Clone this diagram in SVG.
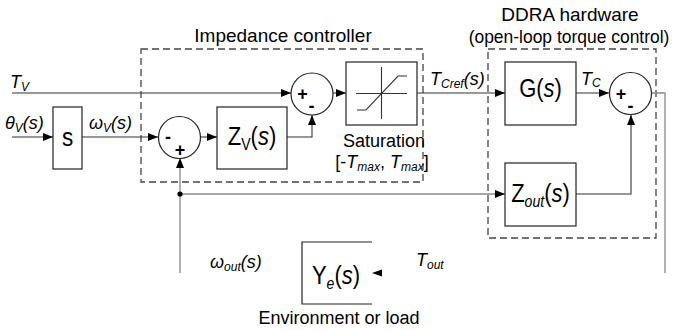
<svg xmlns="http://www.w3.org/2000/svg" width="674" height="330" viewBox="0 0 674 330">
<defs>
<marker id="ah" viewBox="0 0 10 8" refX="10" refY="4" markerWidth="10" markerHeight="8" markerUnits="userSpaceOnUse" orient="auto">
<path d="M0,0 L10,4 L0,8 Z" fill="#000"/>
</marker>
<style>
.box{fill:#fff;stroke:#222;stroke-width:1.2}
.dash{fill:none;stroke:#444;stroke-width:1.3;stroke-dasharray:7,4}
.sum{fill:#fff;stroke:#222;stroke-width:1.2}
.ln{fill:none;stroke:#333;stroke-width:1.1}
.lg{fill:none;stroke:#888;stroke-width:1.3}
.t{font-family:"Liberation Sans",Arial,sans-serif;fill:#000}
.title{font-size:19px}
.blk{font-size:25px}
.lab{font-size:18px;font-style:italic}
.sign{font-size:18px;font-weight:bold}
.i{font-style:italic}
</style>
</defs>

<g id="impedance-controller">
<rect class="dash" x="141" y="49" width="282" height="133"/>
<text class="t title" x="283" y="42" text-anchor="middle">Impedance controller</text>
</g>
<g id="ddra-hardware">
<rect class="dash" x="488" y="49" width="168" height="189"/>
<text class="t title" x="570" y="21" text-anchor="middle">DDRA hardware</text>
<text class="t" font-size="18" transform="translate(569,43) scale(0.97,1)" text-anchor="middle">(open-loop torque control)</text>
</g>

<g id="connectors">
<path class="ln" d="M12,93 H291" marker-end="url(#ah)"/>
<path class="ln" d="M12,137 H53" marker-end="url(#ah)"/>
<path class="ln" d="M82,137 H158" marker-end="url(#ah)"/>
<path class="ln" d="M201,137 H217" marker-end="url(#ah)"/>
<path class="ln" d="M287,137 H312 V115" marker-end="url(#ah)"/>
<path class="ln" d="M333,93 H346" marker-end="url(#ah)"/>
<path class="ln" d="M417,93 H505" marker-end="url(#ah)"/>
<path class="ln" d="M576,93 H609" marker-end="url(#ah)"/>
<path class="lg" d="M652,93 H665 V273"/>
<path class="ln" d="M576,194 H631 V115" marker-end="url(#ah)"/>
<path class="lg" d="M180,194 H505" marker-end="url(#ah)"/>
<path class="lg" d="M180,273 V158" marker-end="url(#ah)"/>
<circle cx="180" cy="194" r="2.6" fill="#000"/>
<path d="M372,273 L382,269.5 L382,276.5 Z" fill="#000"/>
</g>

<g id="sum1">
<circle class="sum" cx="312" cy="94" r="21"/>
<text class="t sign" x="302.5" y="100" text-anchor="middle">+</text>
<text class="t sign" x="311.5" y="112" text-anchor="middle">-</text>
</g>
<g id="sum2">
<circle class="sum" cx="179.5" cy="137.5" r="21"/>
<text class="t sign" x="168" y="143" text-anchor="middle">-</text>
<text class="t sign" x="180" y="156" text-anchor="middle">+</text>
</g>
<g id="sum3">
<circle class="sum" cx="630.5" cy="93.5" r="21"/>
<text class="t sign" x="621" y="99.5" text-anchor="middle">+</text>
<text class="t sign" x="630.5" y="112" text-anchor="middle">-</text>
</g>

<g id="s-block">
<rect class="box" x="53" y="107" width="29" height="62"/>
<text class="t blk" transform="translate(67.5,146) scale(0.9,1)" text-anchor="middle">s</text>
</g>
<g id="zv-block">
<rect class="box" x="217" y="107" width="70" height="62"/>
<text class="t blk" transform="translate(252,145) scale(0.88,1)" text-anchor="middle">Z<tspan font-size="16" dy="5">V</tspan><tspan dy="-5">(</tspan><tspan class="i">s</tspan>)</text>
</g>
<g id="saturation">
<rect class="box" x="346" y="62" width="71" height="63"/>
<path class="ln" d="M356,93.5 H407 M381.5,67 V119"/>
<path class="ln" d="M357,110 H366 L398,76 H407"/>
<text class="t" font-size="18" x="384" y="147" text-anchor="middle">Saturation</text>
<text class="t" font-size="18" x="382" y="168" text-anchor="middle">[-<tspan class="i">T</tspan><tspan class="i" font-size="12" dy="3">max</tspan><tspan dy="-3">, </tspan><tspan class="i">T</tspan><tspan class="i" font-size="12" dy="3">max</tspan><tspan dy="-3">]</tspan></text>
</g>
<g id="g-block">
<rect class="box" x="505" y="62" width="71" height="63"/>
<text class="t blk" transform="translate(540.5,97) scale(0.88,1)" text-anchor="middle">G(<tspan class="i">s</tspan>)</text>
</g>
<g id="zout-block">
<rect class="box" x="505" y="163" width="71" height="63"/>
<text class="t blk" transform="translate(540.5,202) scale(0.88,1)" text-anchor="middle">Z<tspan class="i" font-size="16" dy="5">out</tspan><tspan dy="-5">(</tspan><tspan class="i">s</tspan>)</text>
</g>
<g id="ye-block">
<path class="box" fill="none" d="M372,242 H302 V304 H372"/>
<text class="t blk" transform="translate(336,284) scale(0.88,1)" text-anchor="middle">Y<tspan class="i" font-size="16" dy="5">e</tspan><tspan dy="-5">(</tspan><tspan class="i">s</tspan>)</text>
<text class="t" font-size="18" x="339" y="324" text-anchor="middle">Environment or load</text>
</g>

<g id="labels">
<text class="t lab" x="10" y="88">T<tspan font-size="12" dy="3">V</tspan></text>
<text class="t lab" x="5" y="129">θ<tspan font-size="12" dy="3">V</tspan><tspan dy="-3">(s)</tspan></text>
<text class="t lab" x="89" y="129">ω<tspan font-size="12" dy="3">V</tspan><tspan dy="-3">(s)</tspan></text>
<text class="t lab" x="430" y="85">T<tspan font-size="12" dy="3">Cref</tspan><tspan dy="-3">(s)</tspan></text>
<text class="t lab" x="581" y="85">T<tspan font-size="12" dy="2">C</tspan></text>
<text class="t lab" x="210" y="268">ω<tspan font-size="12" dy="3">out</tspan><tspan dy="-3">(s)</tspan></text>
<text class="t lab" x="416" y="266">T<tspan font-size="12" dy="3">out</tspan></text>
</g>
</svg>
